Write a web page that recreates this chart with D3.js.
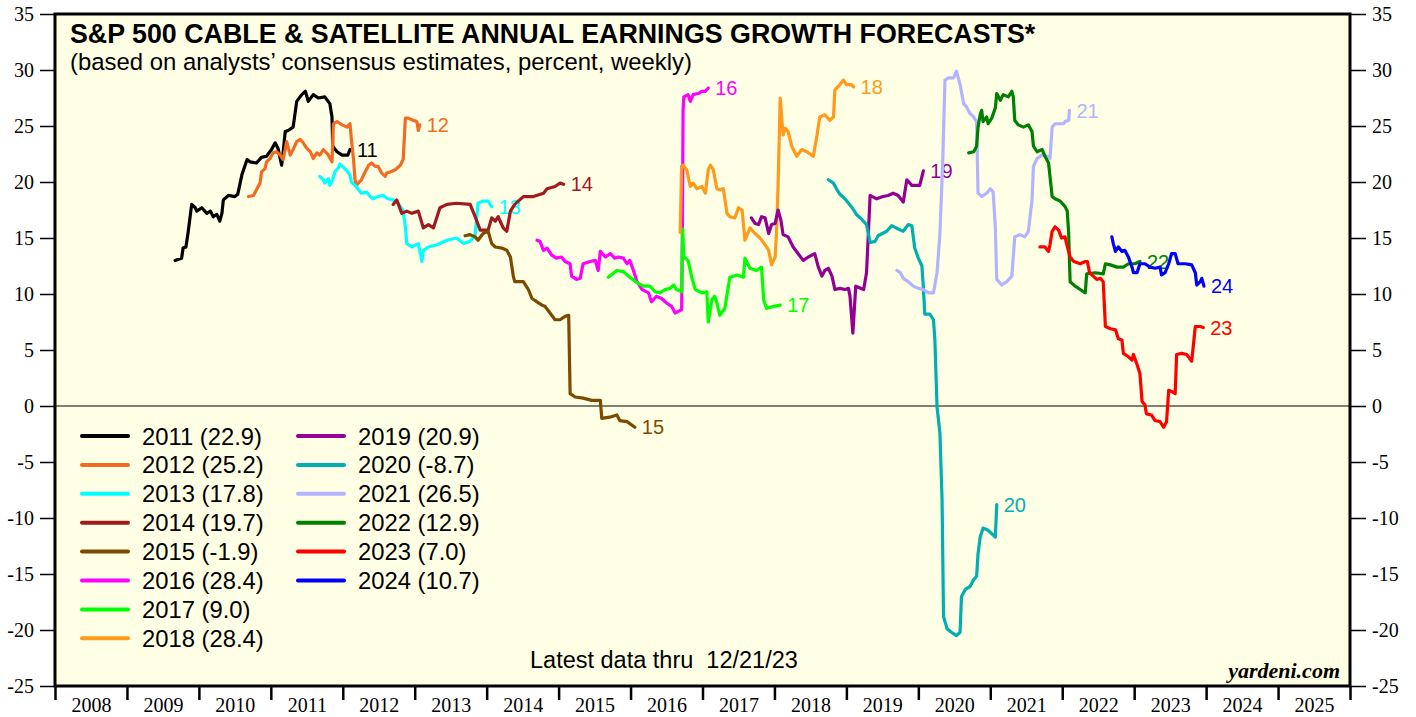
<!DOCTYPE html>
<html>
<head>
<meta charset="utf-8">
<script src="https://cdn.jsdelivr.net/npm/d3@7"></script>
<style>
  body { margin: 0; background: #fff; }
  svg { display: block; }
</style>
</head>
<body>
<div class="chart"></div>
<script>
// forecast years and their latest value (legend)
var seriesYears = [2011, 2012, 2013, 2014, 2015, 2016, 2017, 2018, 2019, 2020, 2021, 2022, 2023, 2024];
var latestValues = [22.9, 25.2, 17.8, 19.7, -1.9, 28.4, 9.0, 28.4, 20.9, -8.7, 26.5, 12.9, 7.0, 10.7];
var yearLabels = d3.range(2008, 2026);
var yTicks = d3.range(-25, 36, 5);

// weekly estimates: [year, percent]
var d2011 = [[2009.67,13.0],[2009.76,13.2],[2009.78,14.1],[2009.82,14.2],[2009.85,15.5],[2009.90,18.0],[2009.95,17.7],[2009.97,17.4],[2010.04,17.7],[2010.11,17.2],[2010.16,17.4],[2010.20,16.9],[2010.25,17.1],[2010.29,16.5],[2010.32,17.2],[2010.34,18.4],[2010.41,18.8],[2010.50,18.7],[2010.54,18.9],[2010.60,20.7],[2010.67,22.0],[2010.71,21.8],[2010.80,21.7],[2010.87,22.2],[2010.94,22.3],[2011.01,22.9],[2011.06,23.5],[2011.10,23.0],[2011.15,21.5],[2011.17,22.6],[2011.20,24.5],[2011.24,24.6],[2011.31,24.9],[2011.36,27.2],[2011.43,27.8],[2011.48,28.1],[2011.52,27.2],[2011.59,27.8],[2011.66,27.5],[2011.75,27.6],[2011.82,27.0],[2011.85,25.8],[2011.86,23.2],[2011.92,22.7],[2011.99,22.4],[2012.07,22.4],[2012.10,22.9]];
var d2012 = [[2010.69,18.7],[2010.76,18.8],[2010.80,19.3],[2010.85,19.9],[2010.87,20.9],[2010.92,21.2],[2010.94,21.8],[2010.99,22.1],[2011.03,22.6],[2011.08,22.7],[2011.13,22.4],[2011.17,22.0],[2011.20,22.9],[2011.22,23.6],[2011.27,22.4],[2011.31,22.9],[2011.36,23.6],[2011.41,23.8],[2011.45,23.5],[2011.50,23.0],[2011.55,22.7],[2011.59,22.1],[2011.64,22.6],[2011.68,22.4],[2011.73,22.9],[2011.80,22.4],[2011.85,21.8],[2011.87,25.2],[2011.92,25.4],[2011.99,25.1],[2012.06,24.9],[2012.10,25.2],[2012.12,23.8],[2012.15,22.0],[2012.17,20.2],[2012.19,19.7],[2012.26,20.2],[2012.31,20.9],[2012.36,21.5],[2012.40,21.7],[2012.45,21.4],[2012.49,21.4],[2012.54,20.8],[2012.59,20.5],[2012.61,20.8],[2012.66,20.9],[2012.73,21.1],[2012.80,21.5],[2012.84,22.0],[2012.87,25.7],[2012.91,25.7],[2012.98,25.5],[2013.03,25.4],[2013.05,24.6],[2013.07,25.1]];
var d2013 = [[2011.68,20.5],[2011.73,20.2],[2011.75,19.9],[2011.80,20.3],[2011.82,19.7],[2011.86,20.2],[2011.89,20.9],[2011.94,21.3],[2011.96,21.6],[2012.01,21.3],[2012.06,21.0],[2012.10,20.6],[2012.12,20.0],[2012.17,19.7],[2012.22,19.3],[2012.26,19.0],[2012.33,19.1],[2012.38,18.7],[2012.42,18.5],[2012.49,18.7],[2012.56,18.8],[2012.63,18.5],[2012.70,18.4],[2012.77,18.1],[2012.84,17.4],[2012.87,16.0],[2012.89,14.5],[2012.96,14.2],[2013.05,14.5],[2013.10,12.9],[2013.12,13.9],[2013.19,14.2],[2013.31,14.4],[2013.45,14.8],[2013.58,15.0],[2013.68,14.5],[2013.77,14.7],[2013.84,15.3],[2013.88,18.1],[2013.95,18.3],[2014.02,18.3],[2014.07,17.8]];
var d2014 = [[2012.70,18.0],[2012.75,18.4],[2012.82,17.2],[2012.89,17.4],[2012.96,17.2],[2013.05,17.4],[2013.12,15.9],[2013.19,16.2],[2013.26,15.9],[2013.35,17.7],[2013.45,18.0],[2013.58,18.1],[2013.77,18.0],[2013.84,16.9],[2013.91,15.7],[2014.02,15.7],[2014.07,16.8],[2014.12,16.5],[2014.16,16.9],[2014.23,15.9],[2014.28,15.6],[2014.33,17.4],[2014.39,18.0],[2014.51,18.7],[2014.65,18.7],[2014.79,19.0],[2014.84,19.4],[2014.95,19.6],[2015.02,19.9],[2015.07,19.8]];
var d2015 = [[2013.70,15.2],[2013.77,15.3],[2013.84,15.1],[2013.88,14.8],[2013.95,15.4],[2014.02,15.6],[2014.07,14.5],[2014.12,14.2],[2014.21,14.1],[2014.28,13.9],[2014.33,13.3],[2014.37,11.6],[2014.39,11.1],[2014.51,11.1],[2014.58,10.4],[2014.63,9.6],[2014.70,9.3],[2014.77,9.0],[2014.81,8.9],[2014.88,8.3],[2014.95,7.7],[2015.02,7.7],[2015.09,8.0],[2015.14,8.1],[2015.16,1.1],[2015.23,0.8],[2015.34,0.7],[2015.46,0.5],[2015.58,0.5],[2015.60,-1.1],[2015.71,-1.0],[2015.81,-0.8],[2015.85,-1.3],[2015.95,-1.4],[2016.06,-1.9]];
var d2016 = [[2014.70,14.8],[2014.74,14.7],[2014.79,13.9],[2014.84,14.1],[2014.90,13.5],[2014.97,13.2],[2015.04,13.3],[2015.09,12.9],[2015.16,12.7],[2015.18,11.6],[2015.25,11.3],[2015.30,11.4],[2015.34,12.7],[2015.44,12.9],[2015.51,13.0],[2015.55,12.1],[2015.58,13.8],[2015.65,13.3],[2015.72,13.6],[2015.78,13.2],[2015.83,13.3],[2015.90,13.2],[2015.95,12.7],[2015.99,13.0],[2016.04,12.1],[2016.09,11.1],[2016.16,10.4],[2016.25,10.1],[2016.29,9.3],[2016.36,9.8],[2016.43,9.6],[2016.50,9.2],[2016.57,8.9],[2016.62,8.3],[2016.71,8.6],[2016.72,15.5],[2016.73,26.4],[2016.74,27.6],[2016.80,27.8],[2016.83,27.2],[2016.87,27.8],[2016.94,27.9],[2016.99,28.1],[2017.04,28.1],[2017.08,28.4]];
var d2017 = [[2015.69,11.5],[2015.81,12.1],[2015.90,12.0],[2015.99,11.5],[2016.09,11.0],[2016.18,10.7],[2016.27,10.7],[2016.34,10.2],[2016.41,10.1],[2016.48,10.4],[2016.55,10.5],[2016.60,10.8],[2016.64,10.4],[2016.71,10.2],[2016.725,15.8],[2016.74,13.3],[2016.80,13.0],[2016.85,11.5],[2016.90,10.4],[2016.99,10.1],[2017.06,10.2],[2017.08,7.5],[2017.13,9.5],[2017.17,9.8],[2017.20,9.2],[2017.24,8.1],[2017.31,8.7],[2017.38,11.5],[2017.48,11.7],[2017.57,11.5],[2017.59,13.2],[2017.66,12.3],[2017.75,12.1],[2017.82,12.4],[2017.85,9.5],[2017.89,8.7],[2017.99,8.9],[2018.08,9.0]];
var d2018 = [[2016.69,15.5],[2016.71,21.4],[2016.73,21.5],[2016.78,21.1],[2016.83,19.6],[2016.87,19.9],[2016.92,19.4],[2016.99,19.6],[2017.04,19.0],[2017.08,21.1],[2017.11,21.5],[2017.15,21.1],[2017.20,19.4],[2017.24,19.3],[2017.29,19.4],[2017.34,17.2],[2017.38,16.9],[2017.45,16.8],[2017.50,17.7],[2017.55,17.5],[2017.59,14.8],[2017.66,15.9],[2017.73,15.4],[2017.80,15.0],[2017.87,14.4],[2017.92,13.9],[2017.96,12.6],[2018.01,13.3],[2018.03,15.7],[2018.05,19.6],[2018.08,27.5],[2018.12,24.2],[2018.15,24.8],[2018.19,24.5],[2018.24,23.2],[2018.31,22.3],[2018.38,22.9],[2018.45,22.7],[2018.54,22.3],[2018.59,24.1],[2018.63,25.8],[2018.70,26.0],[2018.77,25.5],[2018.82,25.8],[2018.84,28.2],[2018.91,28.7],[2018.96,29.1],[2019.00,28.7],[2019.07,28.7],[2019.10,28.5]];
var d2019 = [[2017.68,16.8],[2017.73,16.3],[2017.78,16.2],[2017.82,16.9],[2017.87,16.8],[2017.92,15.4],[2017.96,16.2],[2018.01,16.3],[2018.05,17.5],[2018.09,16.6],[2018.12,15.3],[2018.19,15.1],[2018.26,14.2],[2018.33,13.6],[2018.40,13.0],[2018.47,13.3],[2018.56,13.6],[2018.61,12.4],[2018.66,11.6],[2018.70,12.1],[2018.75,12.3],[2018.80,11.6],[2018.84,10.4],[2018.91,10.5],[2018.98,10.4],[2019.03,10.5],[2019.05,9.8],[2019.09,6.5],[2019.13,10.7],[2019.24,10.4],[2019.28,11.9],[2019.33,18.8],[2019.42,18.5],[2019.51,18.7],[2019.58,18.8],[2019.65,19.0],[2019.72,18.8],[2019.79,18.2],[2019.84,20.2],[2019.91,19.7],[2020.02,19.7],[2020.07,21.0]];
var d2020 = [[2018.75,20.2],[2018.82,19.9],[2018.87,19.3],[2018.91,18.9],[2018.98,18.5],[2019.08,17.7],[2019.14,17.1],[2019.21,16.7],[2019.28,16.2],[2019.33,14.6],[2019.40,14.7],[2019.44,15.2],[2019.56,15.6],[2019.63,16.1],[2019.72,15.8],[2019.79,15.6],[2019.86,16.2],[2019.91,16.1],[2019.95,14.1],[2020.00,13.2],[2020.05,12.5],[2020.07,10.6],[2020.09,8.2],[2020.16,8.2],[2020.21,7.7],[2020.23,5.9],[2020.26,-0.1],[2020.30,-2.4],[2020.33,-8.4],[2020.35,-18.8],[2020.40,-19.9],[2020.46,-20.2],[2020.53,-20.5],[2020.58,-20.2],[2020.60,-17.0],[2020.65,-16.4],[2020.72,-16.1],[2020.77,-15.5],[2020.81,-15.2],[2020.83,-13.2],[2020.86,-11.7],[2020.90,-10.9],[2020.97,-11.1],[2021.07,-11.7],[2021.09,-8.8]];
var d2021 = [[2019.70,12.1],[2019.75,11.9],[2019.79,11.4],[2019.86,11.1],[2019.93,10.7],[2020.00,10.5],[2020.07,10.4],[2020.14,10.1],[2020.21,10.1],[2020.26,11.9],[2020.30,15.4],[2020.34,22.0],[2020.37,29.1],[2020.42,29.3],[2020.49,29.3],[2020.53,29.9],[2020.58,28.7],[2020.63,27.0],[2020.67,26.7],[2020.72,26.1],[2020.77,25.8],[2020.81,25.4],[2020.83,19.0],[2020.88,18.7],[2020.95,19.0],[2021.00,19.4],[2021.04,19.1],[2021.07,16.0],[2021.09,11.3],[2021.16,10.8],[2021.23,11.1],[2021.30,11.6],[2021.34,15.1],[2021.41,15.3],[2021.48,15.1],[2021.53,15.6],[2021.58,18.4],[2021.60,21.4],[2021.65,22.1],[2021.72,22.4],[2021.79,22.3],[2021.83,22.1],[2021.86,24.9],[2021.90,25.2],[2021.97,25.2],[2022.02,25.2],[2022.04,25.4],[2022.09,25.5],[2022.10,26.4]];
var d2022 = [[2020.70,22.6],[2020.77,22.7],[2020.81,23.2],[2020.83,24.9],[2020.86,26.0],[2020.88,26.4],[2020.90,25.4],[2020.95,25.8],[2020.97,25.2],[2021.02,25.7],[2021.07,26.6],[2021.09,27.9],[2021.14,27.3],[2021.18,27.8],[2021.25,27.6],[2021.30,28.1],[2021.32,27.6],[2021.34,25.5],[2021.39,25.1],[2021.46,24.9],[2021.53,25.1],[2021.58,24.5],[2021.60,23.2],[2021.65,22.7],[2021.72,22.9],[2021.76,22.3],[2021.81,21.7],[2021.83,20.5],[2021.86,18.7],[2021.90,18.5],[2021.97,18.3],[2022.04,17.8],[2022.07,17.4],[2022.09,15.4],[2022.10,13.0],[2022.11,11.1],[2022.18,10.7],[2022.25,10.4],[2022.32,10.1],[2022.34,11.8],[2022.46,11.9],[2022.57,11.8],[2022.60,12.7],[2022.67,12.6],[2022.76,12.4],[2022.85,12.4],[2022.92,12.7],[2023.01,12.7],[2023.08,12.9]];
var d2023 = [[2021.69,14.2],[2021.76,14.2],[2021.81,13.8],[2021.83,14.4],[2021.86,15.6],[2021.90,16.0],[2021.95,15.7],[2021.99,15.0],[2022.04,15.1],[2022.06,14.5],[2022.11,13.3],[2022.16,12.9],[2022.25,12.7],[2022.32,12.9],[2022.35,12.9],[2022.38,11.9],[2022.43,11.6],[2022.48,11.3],[2022.53,11.4],[2022.57,11.1],[2022.60,7.1],[2022.67,6.9],[2022.74,6.8],[2022.78,6.0],[2022.83,5.9],[2022.85,4.7],[2022.92,4.4],[2022.97,4.1],[2022.99,4.6],[2023.04,3.7],[2023.08,2.9],[2023.11,0.4],[2023.15,0.1],[2023.17,-0.7],[2023.24,-0.8],[2023.29,-1.3],[2023.36,-1.4],[2023.41,-1.9],[2023.45,-1.4],[2023.48,1.4],[2023.52,1.3],[2023.57,1.1],[2023.59,4.6],[2023.66,4.7],[2023.73,4.6],[2023.80,4.0],[2023.85,7.1],[2023.92,7.1],[2023.96,7.0]];
var d2024 = [[2022.69,15.1],[2022.71,14.5],[2022.74,13.8],[2022.78,14.2],[2022.83,13.8],[2022.87,13.9],[2022.92,13.3],[2022.97,12.4],[2022.99,11.9],[2023.04,11.9],[2023.08,12.7],[2023.15,12.7],[2023.22,12.4],[2023.29,12.3],[2023.36,12.4],[2023.38,11.7],[2023.43,11.9],[2023.48,12.7],[2023.52,13.6],[2023.57,13.6],[2023.61,12.7],[2023.71,12.7],[2023.80,12.6],[2023.85,11.9],[2023.87,10.8],[2023.92,11.1],[2023.94,11.4],[2023.97,10.7]];

var seriesData = [d2011, d2012, d2013, d2014, d2015, d2016, d2017, d2018, d2019, d2020, d2021, d2022, d2023, d2024];
var lineColors = ["#000000", "#F26B22", "#00FFFF", "#A11A1F", "#7D4B00", "#FF00FF", "#00FF00",
                  "#FF9A1A", "#930093", "#00AFAF", "#B3B3FF", "#008000", "#FF0000", "#0000FF"];

var sans = "'Liberation Sans', Arial, sans-serif";
var serif = "'Liberation Serif', 'Times New Roman', serif";

const svg = d3.select(".chart").append("svg")
  .attr("width", 1416)
  .attr("height", 717);

var plot = {left: 55, right: 1350, top: 14, bottom: 686};

var x = d3.scaleLinear().domain([2008, 2026]).range([plot.left, plot.right]);
var y = d3.scaleLinear().domain([-25, 35]).range([plot.bottom, plot.top]);

// plot background
svg.append("rect")
  .attr("x", plot.left).attr("y", plot.top)
  .attr("width", plot.right - plot.left).attr("height", plot.bottom - plot.top)
  .attr("fill", "#FFFFE5");

// zero line
svg.append("line")
  .attr("x1", plot.left).attr("x2", plot.right)
  .attr("y1", y(0)).attr("y2", y(0))
  .attr("stroke", "#000").attr("stroke-width", 1);

// y axes, both sides
var yLeft = svg.append("g")
  .attr("transform", "translate(" + plot.left + ",0)")
  .call(d3.axisLeft(y).tickValues(yTicks).tickSize(15).tickPadding(6).tickFormat(function(d){ return String(d); }));
var yRight = svg.append("g")
  .attr("transform", "translate(" + plot.right + ",0)")
  .call(d3.axisRight(y).tickValues(yTicks).tickSize(16).tickPadding(6).tickFormat(function(d){ return String(d); }));
[yLeft, yRight].forEach(function(g){
  g.select(".domain").remove();
  g.selectAll("line").attr("stroke", "#000").attr("stroke-width", 1.5);
  g.selectAll("text").attr("fill", "#000").style("font-family", serif).style("font-size", "20px");
});

// x axis: ticks at year boundaries, labels in the middle of each year
var xTicks = svg.append("g")
  .attr("transform", "translate(0," + plot.bottom + ")")
  .call(d3.axisBottom(x).tickValues(d3.range(2008, 2027)).tickSize(14).tickFormat(""));
xTicks.select(".domain").remove();
xTicks.selectAll("line").attr("stroke", "#000").attr("stroke-width", 2.5);

var xLabels = svg.append("g")
  .attr("transform", "translate(0," + plot.bottom + ")")
  .call(d3.axisBottom(x).tickValues(yearLabels.map(function(d){ return d + 0.5; }))
    .tickSize(0).tickPadding(12).tickFormat(function(d){ return Math.floor(d); }));
xLabels.select(".domain").remove();
xLabels.selectAll("text").attr("fill", "#000").style("font-family", serif).style("font-size", "20px");

// frame
svg.append("rect")
  .attr("x", plot.left).attr("y", plot.top)
  .attr("width", plot.right - plot.left).attr("height", plot.bottom - plot.top)
  .attr("fill", "none").attr("stroke", "#000").attr("stroke-width", 3);

// series lines, each followed by its end label
var line = d3.line()
  .x(function(d){ return x(d[0]); })
  .y(function(d){ return y(d[1]); });

seriesData.forEach(function(data, i){
  var last = data[data.length - 1];
  svg.append("path")
    .attr("d", line(data))
    .attr("fill", "none")
    .attr("stroke", lineColors[i])
    .attr("stroke-width", 3.2)
    .attr("stroke-linejoin", "round")
    .attr("stroke-linecap", "round");
  svg.append("text")
    .attr("x", x(last[0]) + 7)
    .attr("y", y(last[1]))
    .attr("dy", "0.36em")
    .attr("fill", lineColors[i])
    .style("font-family", sans)
    .style("font-size", "20px")
    .text(String(seriesYears[i]).slice(2));
});

// title
svg.append("text")
  .attr("x", 70).attr("y", 43)
  .style("font-family", sans).style("font-size", "26.8px").style("font-weight", "bold")
  .text("S&P 500 CABLE & SATELLITE ANNUAL EARNINGS GROWTH FORECASTS*");
svg.append("text")
  .attr("x", 70).attr("y", 70)
  .style("font-family", sans).style("font-size", "23.9px")
  .text("(based on analysts\u2019 consensus estimates, percent, weekly)");

// legend, two columns
var legend = svg.append("g");
seriesYears.forEach(function(yr, i){
  var col = i < 8 ? 0 : 1;
  var row = i < 8 ? i : i - 8;
  var lx = col === 0 ? 82 : 298;
  var ly = 436 + row * 28.9;
  legend.append("line")
    .attr("x1", lx).attr("x2", lx + 46)
    .attr("y1", ly).attr("y2", ly)
    .attr("stroke", lineColors[i]).attr("stroke-width", 4)
    .attr("stroke-linecap", "round");
  legend.append("text")
    .attr("x", lx + 60).attr("y", ly).attr("dy", "0.36em")
    .style("font-family", sans).style("font-size", "23.8px")
    .text(yr + " (" + latestValues[i].toFixed(1) + ")");
});

// footnotes
svg.append("text")
  .attr("x", 530).attr("y", 668)
  .style("font-family", sans).style("font-size", "23.5px")
  .text("Latest data thru\u00a0 12/21/23");
svg.append("text")
  .attr("x", 1340).attr("y", 678)
  .attr("text-anchor", "end")
  .style("font-family", serif).style("font-size", "22px")
  .style("font-weight", "bold").style("font-style", "italic")
  .text("yardeni.com");
</script>
</body>
</html>
